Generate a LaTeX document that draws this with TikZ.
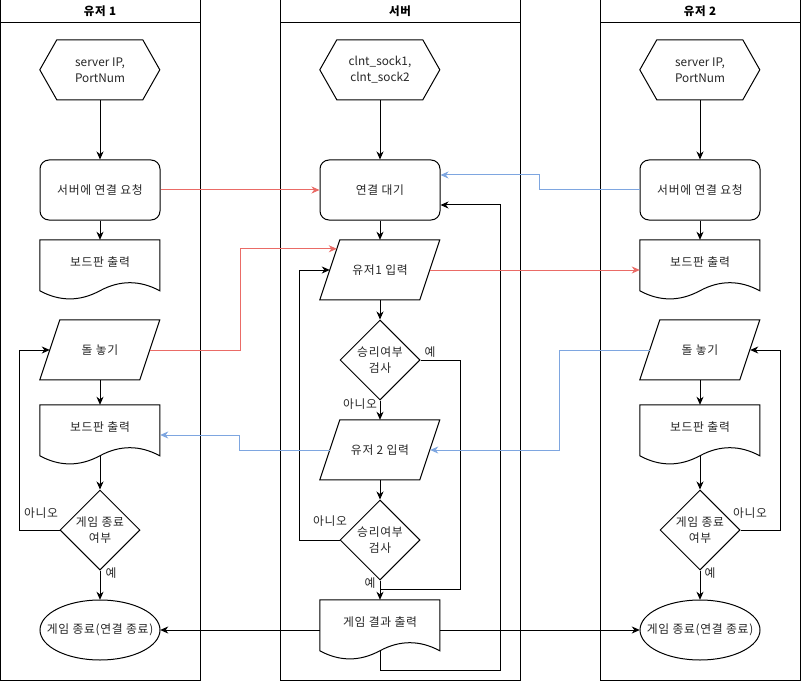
\documentclass[tikz,border=0pt]{standalone}
\usepackage{fontspec}
\setmainfont{Noto Sans CJK KR}[LetterSpace=6]
\newfontfamily\latinfont{Noto Sans CJK KR}
\usetikzlibrary{shapes.geometric,arrows.meta,calc}
\definecolor{redln}{HTML}{EA6B66}
\definecolor{blueln}{HTML}{7EA6E0}
\newcommand\hexoutline[1]{\draw[shp,shift={(#1.north west)}] (17,0) -- (103,0) -- (120,30) -- (103,60) -- (17,60) -- (0,30) -- cycle;}
\newcommand\paroutline[1]{\draw[shp,shift={(#1.north west)}] (20,0) -- (120,0) -- (100,60) -- (0,60) -- cycle;}
\newcommand\docoutline[1]{\draw[shp,shift={(#1.north west)}] (0,0) -- (120,0) -- (120,51) .. controls (100,40.2) and (80,40.2) .. (60,51) .. controls (40,61.8) and (20,61.8) .. (0,51) -- cycle;}
\newcommand\ellipseoutline[1]{\draw[shp] (#1.center) ellipse [x radius=60, y radius=30];}
\begin{document}
\begin{tikzpicture}[x=1pt,y=-1pt,
  font=\fontsize{11.8}{16}\selectfont,
  base/.style={inner sep=0pt, align=center, text=black!85},
  shp/.style={draw=black, line width=1pt, fill=white},
  lanebox/.style={draw, line width=1pt, minimum width=#1, minimum height=680, inner sep=0pt},
  hdrbox/.style={draw, line width=1pt, minimum width=#1, minimum height=23, inner sep=0pt, font=\fontsize{11.5}{13}\selectfont\bfseries},
  plainbox/.style={base, minimum width=120, minimum height=60},
  procbox/.style={base, draw, line width=1pt, fill=white, rounded corners=9pt, minimum width=120, minimum height=60},
  decbox/.style={base, diamond, aspect=1, draw, line width=1pt, fill=white, minimum width=80, minimum height=80},
  lbl/.style={base},
  flow/.style={draw=black, line width=1pt, -{Stealth[length=8pt,width=7pt,inset=2.5pt]}},
  plainln/.style={draw=black, line width=1pt},
  redflow/.style={flow, draw=redln, -{Stealth[length=8pt,width=7pt,inset=2.5pt,color=redln]}},
  blueflow/.style={flow, draw=blueln, -{Stealth[length=8pt,width=7pt,inset=2.5pt,color=blueln]}},
]
\useasboundingbox (0,0) rectangle (801,682);
% lanes
\node[lanebox=200] (L1) at (100,340) {};
\node[hdrbox=200] (H1) at (100,11.5) {유저 1};
\node[lanebox=240] (L2) at (400,340) {};
\node[hdrbox=240] (H2) at (400,11.5) {서버};
\node[lanebox=200] (L3) at (700,340) {};
\node[hdrbox=200] (H3) at (700,11.5) {유저 2};

% left lane shapes
\node[plainbox] (Lin) at (100,70) {};
\hexoutline{Lin}
\node[base,font=\fontsize{11.8}{16}\latinfont] (LinT) at (100,70) {server IP,\\PortNum};
\node[procbox] (Lreq) at (100,190) {서버에 연결 요청};
\node[plainbox] (Ldoc1) at (100,270) {};
\docoutline{Ldoc1}
\node[base] (Ldoc1T) at (100,262) {보드판 출력};
\node[plainbox] (Lstone) at (100,350) {};
\paroutline{Lstone}
\node[base] (LstoneT) at (100,350) {돌 놓기};
\node[plainbox] (Ldoc2) at (100,435) {};
\docoutline{Ldoc2}
\node[base] (Ldoc2T) at (100,427) {보드판 출력};
\node[decbox] (Lend) at (100,530) {게임 종료\\여부};
\node[plainbox] (Lfin) at (100,630) {};
\ellipseoutline{Lfin}
\node[base] (LfinT) at (100,630) {게임 종료(연결 종료)};

% server lane shapes
\node[plainbox] (Sin) at (380,70) {};
\hexoutline{Sin}
\node[base,font=\fontsize{11.8}{16}\latinfont] (SinT) at (380,70) {clnt\_sock1,\\clnt\_sock2};
\node[procbox] (Swait) at (380,190) {연결 대기};
\node[plainbox] (Sin1) at (380,270) {};
\paroutline{Sin1}
\node[base] (Sin1T) at (380,270) {유저1 입력};
\node[decbox] (Schk1) at (380,360) {승리여부\\검사};
\node[plainbox] (Sin2) at (380,450) {};
\paroutline{Sin2}
\node[base] (Sin2T) at (380,450) {유저 2 입력};
\node[decbox] (Schk2) at (380,540) {승리여부\\검사};
\node[plainbox] (Sres) at (380,630) {};
\docoutline{Sres}
\node[base] (SresT) at (380,622) {게임 결과 출력};

% right lane shapes
\node[plainbox] (Rin) at (700,70) {};
\hexoutline{Rin}
\node[base,font=\fontsize{11.8}{16}\latinfont] (RinT) at (700,70) {server IP,\\PortNum};
\node[procbox] (Rreq) at (700,190) {서버에 연결 요청};
\node[plainbox] (Rdoc1) at (700,270) {};
\docoutline{Rdoc1}
\node[base] (Rdoc1T) at (700,262) {보드판 출력};
\node[plainbox] (Rstone) at (700,350) {};
\paroutline{Rstone}
\node[base] (RstoneT) at (700,350) {돌 놓기};
\node[plainbox] (Rdoc2) at (700,435) {};
\docoutline{Rdoc2}
\node[base] (Rdoc2T) at (700,427) {보드판 출력};
\node[decbox] (Rend) at (700,530) {게임 종료\\여부};
\node[plainbox] (Rfin) at (700,630) {};
\ellipseoutline{Rfin}
\node[base] (RfinT) at (700,630) {게임 종료(연결 종료)};

% edge points of parallelograms
\coordinate (LstoneL) at ([xshift=10pt]Lstone.west);
\coordinate (LstoneR) at ([xshift=-10pt]Lstone.east);
\coordinate (RstoneL) at ([xshift=10pt]Rstone.west);
\coordinate (RstoneR) at ([xshift=-10pt]Rstone.east);
\coordinate (Sin1L) at ([xshift=10pt]Sin1.west);
\coordinate (Sin1R) at ([xshift=-10pt]Sin1.east);
\coordinate (Sin2L) at ([xshift=10pt]Sin2.west);
\coordinate (Sin2R) at ([xshift=-10pt]Sin2.east);
\coordinate (Sin1tip) at ([shift={(17pt,-9pt)}]Sin1.north west);
\coordinate (Sjoin) at ([yshift=10pt]Sres.north);

% left lane flow
\draw[flow] (Lin.south) -- (Lreq.north);
\draw[flow] (Lreq.south) -- (Ldoc1.north);
\draw[flow] (Lstone.south) -- (Ldoc2.north);
\draw[flow] ([yshift=9pt]Ldoc2.south) -- (Lend.north);
\draw[flow] (Lend.south) -- (Lfin.north);
\draw[flow] (Lend.west) -- ++(-40,0) |- (LstoneL);

% server flow
\draw[flow] (Sin.south) -- (Swait.north);
\draw[flow] (Swait.south) -- (Sin1.north);
\draw[flow] (Sin1.south) -- (Schk1.north);
\draw[flow] (Schk1.south) -- (Sin2.north);
\draw[flow] (Sin2.south) -- (Schk2.north);
\draw[flow] (Schk2.south) -- (Sres.north);
\draw[plainln] (Schk1.east) -- ++(40,0) |- (Sjoin);
\draw[flow] (Schk2.west) -- ++(-40,0) |- (Sin1L);
\draw[flow] ([yshift=9pt]Sres.south) -- ++(0,19) -- ++(120,0) |- ([yshift=-15pt]Swait.east);
\draw[flow] (Sres.west) -- (Lfin.east);
\draw[flow] (Sres.east) -- (Rfin.west);

% right lane flow
\draw[flow] (Rin.south) -- (Rreq.north);
\draw[flow] (Rreq.south) -- (Rdoc1.north);
\draw[flow] (Rstone.south) -- (Rdoc2.north);
\draw[flow] ([yshift=9pt]Rdoc2.south) -- (Rend.north);
\draw[flow] (Rend.south) -- (Rfin.north);
\draw[flow] (Rend.east) -- ++(40,0) |- (RstoneR);

% cross-lane messages
\draw[redflow] (Lreq.east) -- (Swait.west);
\draw[redflow] (LstoneR) -- ++(90,0) |- (Sin1tip);
\draw[redflow] (Sin1R) -- (Rdoc1.west);
\draw[blueflow] (Rreq.west) -- ++(-100,0) |- ([yshift=15pt]Swait.east);
\draw[blueflow] (RstoneL) -- ++(-90,0) |- (Sin2R);
\draw[blueflow] (Sin2L) -- ++(-90,0) |- (Ldoc2.east);

% labels
\node[lbl] (y1) at (430,352) {예};
\node[lbl] (n1) at (360,404) {아니오};
\node[lbl] (n2) at (330,521) {아니오};
\node[lbl] (y2) at (370,583) {예};
\node[lbl] (nL) at (41,513) {아니오};
\node[lbl] (yL) at (111,573) {예};
\node[lbl] (nR) at (750,513) {아니오};
\node[lbl] (yR) at (710,573) {예};
\end{tikzpicture}
\end{document}
